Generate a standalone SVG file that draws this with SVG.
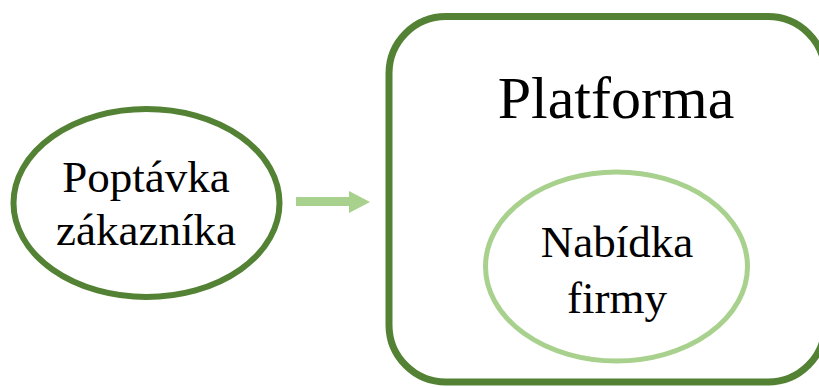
<svg xmlns="http://www.w3.org/2000/svg" width="819" height="387" viewBox="0 0 819 387">
<style>
text{font-family:"Liberation Serif","Times New Roman",serif;fill:#000;text-anchor:middle}
.dark{fill:none;stroke:#548235}
.light{fill:none;stroke:#A9D18E}
</style>
<rect width="819" height="387" fill="#fff"/>
<g id="platforma">
<rect class="dark" x="389" y="16.5" width="436" height="365.5" rx="57" stroke-width="7"/>
<text x="616" y="118" font-size="60">Platforma</text>
</g>
<g id="nabidka">
<ellipse class="light" cx="616.5" cy="266.5" rx="131" ry="94.5" stroke-width="5"/>
<text x="617" y="257" font-size="45">Nabídka</text>
<text x="617" y="313" font-size="45">firmy</text>
</g>
<g id="poptavka">
<ellipse class="dark" cx="146.5" cy="203" rx="133" ry="94" stroke-width="6"/>
<text x="146" y="192" font-size="45">Poptávka</text>
<text x="146" y="245" font-size="45">zákazníka</text>
</g>
<g id="connectors">
<polygon points="296,197 349,197 349,191 370,202 349,213 349,206 296,206" fill="#A9D18E"/>
</g>
</svg>
